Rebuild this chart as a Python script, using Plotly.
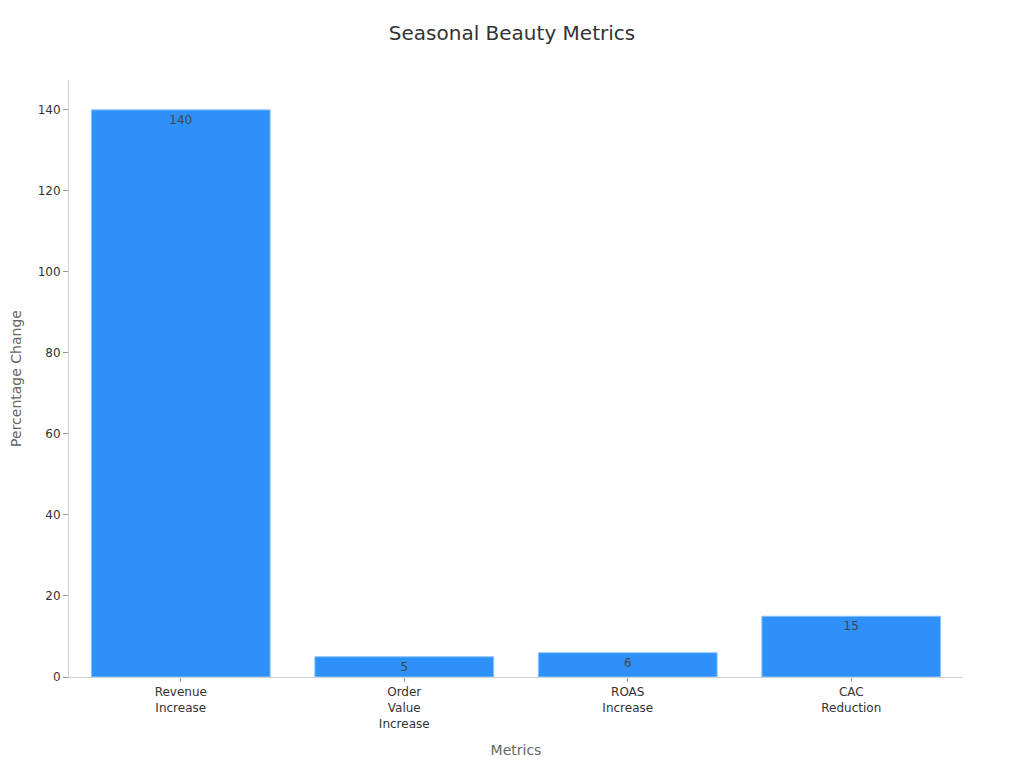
import plotly.graph_objects as go

# Data
metrics = ['Revenue<br>Increase', 'Order<br>Value<br>Increase', 'ROAS<br>Increase', 'CAC<br>Reduction']
pct_change = [140, 5, 6, 15]

fig = go.Figure()

fig.add_trace(go.Bar(x=metrics,
                     y=pct_change,
                     text=pct_change,
                     textposition='inside',
                     insidetextanchor='end',
                     textfont=dict(color='#444444', size=12),
                     marker=dict(color='#2E91FA',
                                 line=dict(color='#8EC4FF', width=1)),
                     showlegend=False))

fig.update_layout(title=dict(text='Seasonal Beauty Metrics', x=0.4922, y=0.9765,
                             xanchor='center',
                             font=dict(size=20, color='#333333')),
                  font=dict(family='DejaVu Sans', size=12, color='#333333'),
                  width=1024, height=768,
                  paper_bgcolor='white', plot_bgcolor='white',
                  margin=dict(l=61, r=69, t=72, b=99),
                  bargap=0.2)

fig.update_xaxes(title=dict(text='Metrics', font=dict(size=14, color='#666666')),
                 showline=True, linecolor='#D0D0D0', linewidth=1,
                 ticks='outside', tickcolor='#999999', ticklen=4,
                 tickangle=0, automargin=False)
fig.update_yaxes(title=dict(text='Percentage Change', font=dict(size=14, color='#666666'),
                            standoff=14),
                 showline=True, linecolor='#D0D0D0', linewidth=1,
                 ticks='outside', tickcolor='#999999', ticklen=5,
                 showgrid=False, zeroline=False, dtick=20, automargin=False)

fig.write_html("out.html")
